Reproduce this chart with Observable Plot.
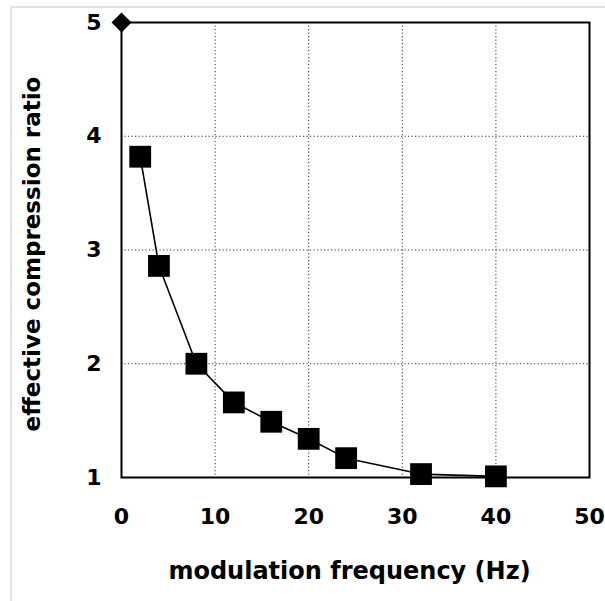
<!DOCTYPE html>
<html>
<head>
<meta charset="utf-8">
<script src="https://cdn.jsdelivr.net/npm/d3@7"></script>
<script src="https://cdn.jsdelivr.net/npm/@observablehq/plot@0.6"></script>
<style>
  html, body { margin: 0; padding: 0; background: #fff; }
  #wrap { position: relative; width: 605px; height: 601px; overflow: hidden; }
  #edge { position: absolute; left: 10px; top: 6px; right: 0; bottom: 0;
          border-left: 2px solid #e2e2e2; border-top: 2px solid #e2e2e2; pointer-events: none; }
  #chart { position: absolute; left: 0; top: 0; }
</style>
</head>
<body>
<div id="wrap"><div id="edge"></div><div id="chart"></div></div>
<script>
// Data
const freq = [2, 4, 8, 12, 16, 20, 24, 32, 40];
const ratio = [3.82, 2.86, 2.0, 1.66, 1.49, 1.34, 1.17, 1.03, 1.01];
const refFreq = [0];
const refRatio = [5];
const xTicks = [0, 10, 20, 30, 40, 50];
const yTicks = [1, 2, 3, 4, 5];
const xLabel = "modulation frequency (Hz)";
const yLabel = "effective compression ratio";

const pts = freq.map((f, i) => ({f, r: ratio[i]}));
const ref = refFreq.map((f, i) => ({f, r: refRatio[i]}));
const font = "DejaVu Sans, Liberation Sans, Arial, sans-serif";

const chart = Plot.plot({
  width: 605,
  height: 601,
  marginLeft: 121,
  marginRight: 16,
  marginTop: 22,
  marginBottom: 124,
  style: {background: "transparent", fontFamily: font, color: "#000", overflow: "visible"},
  x: {domain: [0, 50], ticks: xTicks},
  y: {domain: [1, 5], ticks: yTicks},
  marks: [
    Plot.gridX(xTicks.filter(d => d > 0 && d < 50), {stroke: "#333", strokeOpacity: 1, strokeWidth: 1, strokeDasharray: "1.2,2.3"}),
    Plot.gridY(yTicks.filter(d => d > 1 && d < 5), {stroke: "#333", strokeOpacity: 1, strokeWidth: 1, strokeDasharray: "1.2,2.3"}),
    Plot.frame({stroke: "#000", strokeWidth: 2}),
    Plot.axisX({ticks: xTicks, tickFormat: d3.format("d"), tickSize: 0, tickPadding: 31, fontSize: 22, fontWeight: "bold", label: null, fontFamily: font}),
    Plot.axisY({ticks: yTicks, tickFormat: d3.format("d"), tickSize: 0, tickPadding: 20, fontSize: 22, fontWeight: "bold", label: null, fontFamily: font}),
    Plot.line(pts, {x: "f", y: "r", stroke: "#000", strokeWidth: 1.6}),
    Plot.dot(pts, {x: "f", y: "r", symbol: "square", r: 12.3, fill: "#000", stroke: "none"}),
    Plot.dot(ref, {x: "f", y: "r", symbol: "diamond2", r: 9, fill: "#000", stroke: "none"}),
    Plot.text([yLabel], {frameAnchor: "left", textAnchor: "middle", lineAnchor: "middle", dx: -89, dy: 4, rotate: -90, fontSize: 23, fontWeight: "bold", fill: "#000", fontFamily: font}),
    Plot.text([xLabel], {frameAnchor: "bottom", textAnchor: "middle", dy: 101, dx: -6, fontSize: 24, fontWeight: "bold", fill: "#000", fontFamily: font})
  ]
});
document.getElementById("chart").appendChild(chart);
</script>
</body>
</html>
